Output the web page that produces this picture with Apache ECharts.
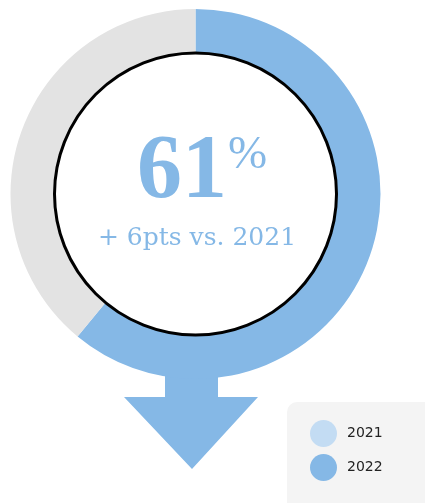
<!DOCTYPE html>
<html>
<head>
<meta charset="utf-8">
<script src="https://cdn.jsdelivr.net/npm/echarts@6/dist/echarts.min.js"></script>
<style>
  html, body { margin: 0; padding: 0; background: #fff; }
  #chart { width: 425px; height: 503px; }
</style>
</head>
<body>
<div id="chart"></div>
<script>
// share values
const years = ['2021', '2022']
const shares = [55, 61]
const yearColors = ['#c3dcf3', '#85b8e6']
const restColor = '#e3e3e3'

const cx = 195.5
const cy = 194

const chart = echarts.init(document.getElementById('chart'))

const current = shares[1]
const delta = shares[1] - shares[0]

const option = {
  animation: false,
  legend: {
    data: years,
    orient: 'vertical',
    left: 310,
    top: 420,
    padding: 0,
    icon: 'circle',
    itemWidth: 27,
    itemHeight: 27,
    itemGap: 7,
    selectedMode: false,
    textStyle: {
      fontFamily: 'DejaVu Sans',
      fontSize: 14,
      color: '#222',
      padding: [0, 0, 0, 5]
    }
  },
  graphic: [
    // legend panel
    {
      type: 'rect',
      z: -1,
      shape: { x: 287, y: 402, width: 170, height: 130, r: 10 },
      style: { fill: '#f4f4f4' }
    },
    // arrow
    {
      type: 'polygon',
      z: -1,
      shape: {
        points: [[165, 345], [218, 345], [218, 397], [258, 397], [192, 469], [124, 397], [165, 397]]
      },
      style: { fill: yearColors[1] }
    },
    // inner disc
    {
      type: 'circle',
      z: 10,
      shape: { cx: cx, cy: cy, r: 141 },
      style: { fill: '#fff', stroke: '#000', lineWidth: 3 }
    },
    {
      type: 'text',
      z: 11,
      x: 182,
      y: 219,
      style: {
        text: String(current),
        fontFamily: 'Liberation Serif',
        fontWeight: 'bold',
        fontSize: 90,
        fill: yearColors[1],
        align: 'center',
        verticalAlign: 'bottom'
      }
    },
    {
      type: 'text',
      z: 11,
      x: 228,
      y: 132,
      style: {
        text: '%',
        fontFamily: 'Liberation Serif',
        fontSize: 47,
        fill: yearColors[1],
        align: 'left',
        verticalAlign: 'top'
      }
    },
    {
      type: 'text',
      z: 11,
      x: 197,
      y: 238,
      style: {
        text: '+ ' + delta + 'pts vs. ' + years[0],
        fontFamily: 'DejaVu Serif',
        fontSize: 25,
        fill: yearColors[1],
        align: 'center',
        verticalAlign: 'middle'
      }
    }
  ],
  series: [
    {
      name: 'share',
      type: 'pie',
      center: [cx, cy],
      radius: [140, 185],
      startAngle: 90,
      clockwise: true,
      silent: true,
      label: { show: false },
      labelLine: { show: false },
      data: [
        { name: years[1], value: current, itemStyle: { color: yearColors[1] } },
        { name: 'rest', value: 100 - current, itemStyle: { color: restColor } }
      ]
    },
    {
      // previous year, only shown in the legend
      name: 'previous',
      type: 'pie',
      center: [cx, cy],
      radius: [0, 0],
      silent: true,
      label: { show: false },
      labelLine: { show: false },
      data: [
        { name: years[0], value: shares[0], itemStyle: { color: yearColors[0] } }
      ]
    }
  ]
}

chart.setOption(option)
</script>
</body>
</html>
